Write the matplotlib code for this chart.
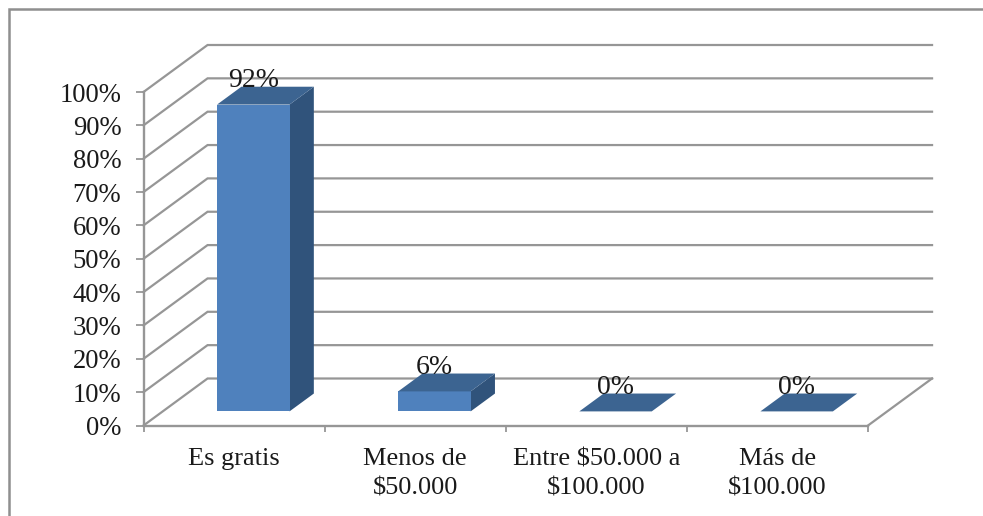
import matplotlib
matplotlib.use('Agg')
import matplotlib.pyplot as plt
from matplotlib.lines import Line2D

# Data
categories = ['Es gratis', 'Menos de\n$50.000', 'Entre $50.000 a\n$100.000', 'Más de\n$100.000']
values = [92, 6, 0, 0]
value_labels = ['92%', '6%', '0%', '0%']
y_ticks = [0, 10, 20, 30, 40, 50, 60, 70, 80, 90, 100]
y_tick_labels = ['0%', '10%', '20%', '30%', '40%', '50%', '60%', '70%', '80%', '90%', '100%']

W, H = 983, 516
GRAY = '#969696'
FRONT = '#4f81bd'
TOP = '#3c6491'
SIDE = '#30537b'
TEXT = '#1a1a1a'

plt.rcParams['font.family'] = ['Liberation Serif', 'DejaVu Serif']

fig = plt.figure(figsize=(W / 100, H / 100), dpi=100)
# axes box is the front plane of the 3D chart, in pixels
x0, x1, y0, y1 = 143.5, 868, 425.5, 92
ax = fig.add_axes([x0 / W, 1 - y0 / H, (x1 - x0) / W, (y0 - y1) / H])
ax.set_xlim(0, 4)
ax.set_ylim(0, 100)
ax.patch.set_visible(False)

# depth of the chart: one unit of depth moves this far in data units
DEPTH_X = 64 / 181
DEPTH_Y = 47 / 3.335


def shear(x, y, d):
    return x + d * DEPTH_X, y + d * DEPTH_Y


# side wall and back wall lines
for t in y_ticks:
    xb, yb = shear(0, t, 1)
    xe, ye = shear(4, t, 1)
    ax.plot([0, xb, xe], [t, yb, ye], color=GRAY, lw=1.6, clip_on=False, zorder=1,
            solid_joinstyle='miter')
# right edge of the floor
xb, yb = shear(4, 0, 1)
ax.plot([4, xb], [0, yb], color=GRAY, lw=1.6, clip_on=False, zorder=1)

# bars
bar_w = 0.4
d0, d1 = 0.3, 0.68
for i, (v, lab) in enumerate(zip(values, value_labels)):
    c = i + 0.5
    l = c - bar_w / 2
    r = c + bar_w / 2
    if v > 0:
        xs, ys = zip(shear(r, 0, d0), shear(r, v, d0), shear(r, v, d1), shear(r, 0, d1))
        ax.fill(xs, ys, color=SIDE, lw=0, clip_on=False, zorder=2)
        xs, ys = zip(shear(l, 0, d0), shear(l, v, d0), shear(r, v, d0), shear(r, 0, d0))
        ax.fill(xs, ys, color=FRONT, lw=0, clip_on=False, zorder=3)
    xs, ys = zip(shear(l, v, d0), shear(r, v, d0), shear(r, v, d1), shear(l, v, d1))
    ax.fill(xs, ys, color=TOP, lw=0, clip_on=False, zorder=3)
    lx = shear(c, v, d0)[0]
    ly = shear(c, v, d1)[1]
    ax.text(lx, ly, lab, ha='center', va='baseline', fontsize=20, color=TEXT,
            clip_on=False, zorder=4)

# axes
for s in ['top', 'right']:
    ax.spines[s].set_visible(False)
for s in ['left', 'bottom']:
    ax.spines[s].set_color(GRAY)
    ax.spines[s].set_linewidth(1.7)
    ax.spines[s].set_zorder(1)

ax.set_yticks(y_ticks)
ax.set_yticklabels(y_tick_labels, fontsize=19.2, color=TEXT)
ax.tick_params(axis='y', length=6, width=1.3, color=GRAY, pad=10)

ax.set_xticks([0, 1, 2, 3, 4])
ax.set_xticklabels([])
ax.set_xticks([0.5, 1.5, 2.5, 3.5], minor=True)
ax.set_xticklabels(categories, minor=True, fontsize=19, color=TEXT, linespacing=1.42)
ax.tick_params(axis='x', which='major', length=4.5, width=1.3, color=GRAY)
ax.tick_params(axis='x', which='minor', length=0, pad=16.5)

# outer chart frame, cut off by the image edge
fig.add_artist(Line2D([1, 8.5 / W, 8.5 / W], [1 - 9 / H, 1 - 9 / H, 0],
                      color='#8f8f8f', lw=1.8, transform=fig.transFigure,
                      solid_joinstyle='miter'))

fig.savefig('out.png', dpi=100, facecolor='white')
